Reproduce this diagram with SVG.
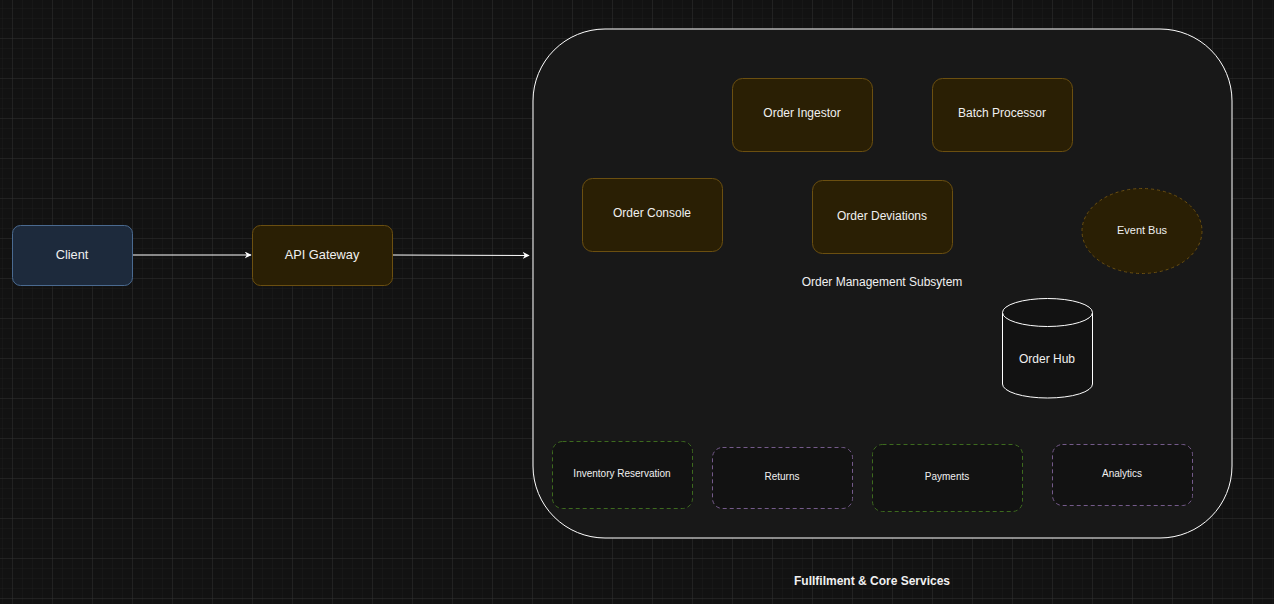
<svg xmlns="http://www.w3.org/2000/svg" width="1274" height="604" viewBox="0 0 1274 604">
<defs>
<pattern id="minor" x="2" y="-2" width="10" height="10" patternUnits="userSpaceOnUse">
<path d="M0 0H10M0 0V10" fill="none" stroke="#1b1b1b" stroke-width="1"/>
</pattern>
<pattern id="major" x="12" y="-2" width="40" height="40" patternUnits="userSpaceOnUse">
<path d="M0 0H40M0 0V40" fill="none" stroke="#2e2e2e" stroke-width="1"/>
</pattern>
<marker id="arr" viewBox="0 0 10 10" refX="9" refY="5" markerWidth="7" markerHeight="7" orient="auto" markerUnits="userSpaceOnUse">
<path d="M0 0L10 5L0 10L3 5Z" fill="#ffffff"/>
</marker>
<style>
text{font-family:"Liberation Sans",Arial,sans-serif;fill:#f0f0f0;text-anchor:middle;dominant-baseline:central}
.lbl{font-size:12px}
.big{font-size:12.8px}
.sm{font-size:10px}
.amber{fill:#2a1f04;stroke:#6b4f10;stroke-width:1}
.green{fill:#121212;stroke:#3d6a1e;stroke-width:1;stroke-dasharray:4 3}
.purple{fill:#121212;stroke:#745a8a;stroke-width:1;stroke-dasharray:4 3}
.conn{fill:none;stroke:#ffffff;stroke-width:1}
</style>
</defs>
<rect width="1274" height="604" fill="#121212"/>
<rect width="1274" height="604" fill="url(#minor)"/>
<rect width="1274" height="604" fill="url(#major)"/>

<g id="container">
<rect x="533" y="29" width="699" height="509" rx="72" ry="72" fill="#181818" stroke="#ffffff" stroke-width="1"/>
<text x="882" y="282" class="lbl">Order Management Subsytem</text>
<text x="872" y="581" class="lbl" style="font-weight:bold">Fullfilment &amp; Core Services</text>
</g>

<g id="connectors">
<path class="conn" d="M132 255H251" marker-end="url(#arr)"/>
<path class="conn" d="M392 255L529 255.5" marker-end="url(#arr)"/>
</g>

<g id="client">
<rect x="12.5" y="225.5" width="120" height="60" rx="8" fill="#1d2a3c" stroke="#4a6a90"/>
<text x="72" y="254" class="big">Client</text>
</g>
<g id="api-gateway">
<rect x="252.5" y="225.5" width="140" height="60" rx="8" class="amber"/>
<text x="322" y="254" class="big">API Gateway</text>
</g>
<g id="order-ingestor">
<rect x="732.5" y="78.5" width="140" height="73" rx="10" class="amber"/>
<text x="802" y="113" class="lbl">Order Ingestor</text>
</g>
<g id="batch-processor">
<rect x="932.5" y="78.5" width="140" height="73" rx="10" class="amber"/>
<text x="1002" y="113" class="lbl">Batch Processor</text>
</g>
<g id="order-console">
<rect x="582.5" y="178.5" width="140" height="73" rx="10" class="amber"/>
<text x="652" y="213" class="lbl">Order Console</text>
</g>
<g id="order-deviations">
<rect x="812.5" y="180.5" width="140" height="73" rx="10" class="amber"/>
<text x="882" y="216" class="lbl">Order Deviations</text>
</g>
<g id="event-bus">
<ellipse cx="1142" cy="231" rx="60" ry="42.5" fill="#2a1f04" stroke="#6b4f10" stroke-dasharray="3 3"/>
<text x="1142" y="230" style="font-size:11px">Event Bus</text>
</g>
<g id="order-hub">
<path d="M1002.5 312.5V384A45 14 0 0 0 1092.5 384V312.5" fill="#121212" stroke="#ffffff"/>
<ellipse cx="1047.5" cy="312.5" rx="45" ry="14" fill="#121212" stroke="#ffffff"/>
<text x="1047" y="359" class="lbl">Order Hub</text>
</g>
<g id="inventory-reservation">
<rect x="552.5" y="441.5" width="140" height="67" rx="10" class="green"/>
<text x="622" y="473" class="sm">Inventory Reservation</text>
</g>
<g id="returns">
<rect x="712.5" y="447.5" width="140" height="61" rx="10" class="purple"/>
<text x="782" y="476" class="sm">Returns</text>
</g>
<g id="payments">
<rect x="872.5" y="444.5" width="150" height="67" rx="10" class="green"/>
<text x="947" y="476" class="sm">Payments</text>
</g>
<g id="analytics">
<rect x="1052.5" y="444.5" width="140" height="61" rx="10" class="purple"/>
<text x="1122" y="473" class="sm">Analytics</text>
</g>
</svg>
